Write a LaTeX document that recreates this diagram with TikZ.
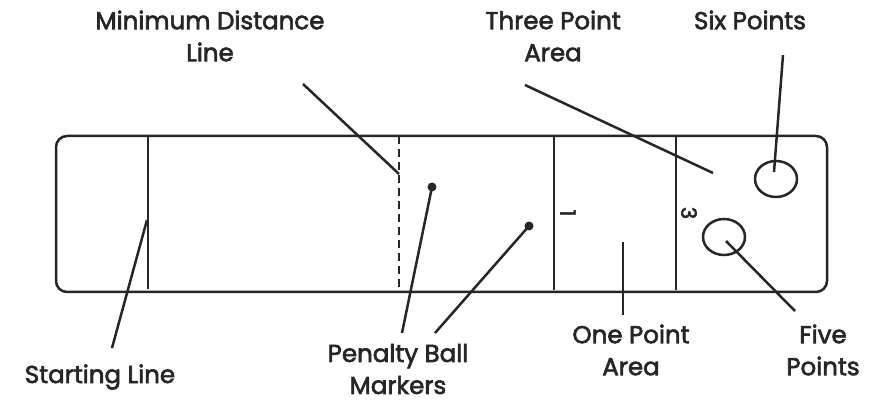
\documentclass[tikz,border=0pt]{standalone}
\usepackage{fontspec}
\usetikzlibrary{shapes.geometric}
\setmainfont{Poppins}[FakeBold=2.5]
\begin{document}
\begin{tikzpicture}[x=1pt,y=-1pt,
  ln/.style={line width=2.5pt, draw=black!85},
  lbl/.style={align=center, font=\fontsize{24.5}{32}\selectfont, text=black!85, inner sep=0pt},
  num/.style={font=\fontsize{21}{21}\selectfont, text=black!85, inner sep=0pt, rotate=-90},
  dotm/.style={circle, fill=black!85, minimum size=9pt, inner sep=0pt}]
\useasboundingbox (0,0) rectangle (878,403);
% field
\draw[ln, rounded corners=11pt] (56,136) rectangle (827,292);
\coordinate (sT) at (148,136); \coordinate (sB) at (148,289);
\draw[ln] (sT) -- (sB);
\coordinate (mT) at (399,136); \coordinate (mB) at (399,291);
\draw[ln, dash pattern=on 8pt off 5pt] (mT) -- (mB);
\coordinate (oT) at (554,136); \coordinate (oB) at (554,290);
\draw[ln] (oT) -- (oB);
\coordinate (tT) at (676,136); \coordinate (tB) at (676,290);
\draw[ln] (tT) -- (tB);
\node[num] (n1) at (568,213) {1};
\node[num] (n3) at (689,213) {3};
\node[ln, ellipse, minimum width=42pt, minimum height=36pt, inner sep=0pt] (six) at (776,179) {};
\node[ln, ellipse, minimum width=42pt, minimum height=36pt, inner sep=0pt] (five) at (724,237) {};
\node[dotm] (d1) at (432,187) {};
\node[dotm] (d2) at (529,226) {};
% labels
\node[lbl] (lmin) at (210,36) {Minimum Distance\\Line};
\node[lbl] (lstart) at (100,377) {Starting Line};
\node[lbl] (lpen) at (398,369) {Penalty Ball\\Markers};
\node[lbl] (lthree) at (553,36) {Three Point\\Area};
\node[lbl] (lsix) at (750,20) {Six Points};
\node[lbl] (lone) at (631,350) {One Point\\Area};
\node[lbl] (lfive) at (823,350) {Five\\Points};
% leader ends
\coordinate (aMin1) at (303,84); \coordinate (aMin2) at (399,174);
\coordinate (aSt1) at (147,220); \coordinate (aSt2) at (112,348);
\coordinate (aP1) at (402,333); \coordinate (aP2) at (435,333);
\coordinate (aTh1) at (525,85); \coordinate (aTh2) at (713,173);
\coordinate (aSix1) at (783,55); \coordinate (aSix2) at (774,172);
\coordinate (aFi1) at (726,241); \coordinate (aFi2) at (795,311);
\coordinate (aOn1) at (623,242); \coordinate (aOn2) at (623,315);
% leaders
\draw[ln] (aMin1) -- (aMin2);
\draw[ln] (aSt1) -- (aSt2);
\draw[ln] (d1.center) -- (aP1);
\draw[ln] (d2.center) -- (aP2);
\draw[ln] (aTh1) -- (aTh2);
\draw[ln] (aSix1) -- (aSix2);
\draw[ln] (aFi1) -- (aFi2);
\draw[ln] (aOn1) -- (aOn2);
\end{tikzpicture}
\end{document}
